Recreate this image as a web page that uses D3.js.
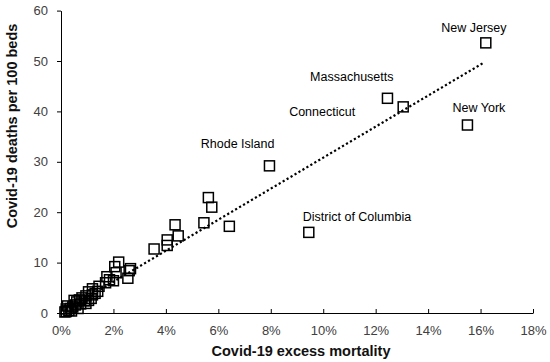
<!DOCTYPE html>
<html>
<head>
<meta charset="utf-8">
<script src="https://cdn.jsdelivr.net/npm/d3@7"></script>
<style>
  html, body { margin: 0; padding: 0; background: #fff; }
  svg { display: block; font-family: "Liberation Sans", Arial, sans-serif; }
</style>
</head>
<body>
<svg id="chart" width="550" height="362"></svg>
<script>
// Covid-19 excess mortality (%) vs Covid-19 deaths per 100 beds
const excessMortality = [16.2, 12.45, 13.05, 15.5, 7.95, 9.45, 5.62, 5.75, 5.45, 6.42,
  4.35, 4.47, 4.05, 4.05, 3.55, 2.2, 2.05, 2.1, 2.65, 2.6,
  2.55, 1.75, 1.85, 2.0, 1.7, 1.45, 1.2, 1.4, 1.05, 1.2,
  0.95, 1.15, 0.8, 0.7, 0.9, 0.6, 0.75, 0.55, 0.95, 0.45,
  0.35, 0.3, 0.2, 0.15, 0.25, 0.5, 1.3, 0.65, 0.4, 1.05, 0.2];
const deathsPer100Beds = [53.6, 42.6, 40.9, 37.3, 29.2, 16.0, 22.9, 21.0, 17.9, 17.2,
  17.5, 15.3, 14.5, 13.4, 12.7, 10.1, 9.2, 8.0, 8.8, 8.4,
  6.9, 7.2, 6.6, 6.4, 6.0, 5.3, 4.8, 4.3, 4.2, 3.6,
  3.4, 2.9, 3.0, 2.6, 2.4, 2.2, 1.8, 1.6, 1.9, 1.2,
  0.9, 0.5, 0.3, 0.2, 1.4, 2.5, 3.9, 0.9, 0.4, 2.5, 0.8];
const labelNames = ["New Jersey", "Massachusetts", "Connecticut", "New York", "Rhode Island", "District of Columbia"];
const labelX = [14.5, 9.5, 8.7, 14.93, 5.33, 9.22];
const labelY = [55.8, 46.0, 39.0, 39.9, 32.7, 18.3];
const xTicks = [0, 2, 4, 6, 8, 10, 12, 14, 16, 18];
const yTicks = [0, 10, 20, 30, 40, 50, 60];
const trendX = [0.15, 16.1];
const trendY = [0.5, 49.6];
const xTitle = "Covid-19 excess mortality";
const yTitle = "Covid-19 deaths per 100 beds";

const svg = d3.select("#chart");
const x = d3.scaleLinear().domain([0, 18]).range([61, 533]);
const y = d3.scaleLinear().domain([0, 60]).range([313, 10.6]);

// axes
const xAxis = d3.axisBottom(x).tickValues(xTicks).tickFormat(d => d + "%").tickSizeInner(-4).tickSizeOuter(0).tickPadding(13);
const yAxis = d3.axisLeft(y).tickValues(yTicks).tickSizeInner(4).tickSizeOuter(0).tickPadding(9);

const gx = svg.append("g").attr("transform", "translate(0,313)").call(xAxis);
const gy = svg.append("g").attr("transform", "translate(61,0)").call(yAxis);
[gx, gy].forEach(g => {
  g.select(".domain").attr("stroke", "#000").attr("stroke-width", 1);
  g.selectAll(".tick line").attr("stroke", "#000").attr("stroke-width", 1);
  g.selectAll(".tick text").attr("fill", "#404040").style("font-size", "13px")
    .style("font-family", '"Liberation Sans", Arial, sans-serif');
});

// trend line
svg.append("line")
  .attr("x1", x(trendX[0])).attr("y1", y(trendY[0]))
  .attr("x2", x(trendX[1])).attr("y2", y(trendY[1]))
  .attr("stroke", "#000").attr("stroke-width", 2.2)
  .attr("stroke-dasharray", "2.2 2.4");

// markers
const s = 10;
const pts = excessMortality.map((v, i) => ({ x: v, y: deathsPer100Beds[i] }));
svg.append("g").selectAll("rect").data(pts).join("rect")
  .attr("x", d => x(d.x) - s / 2).attr("y", d => y(d.y) - s / 2)
  .attr("width", s).attr("height", s)
  .attr("fill", "none").attr("stroke", "#000").attr("stroke-width", 1.5);

// labels
svg.append("g").selectAll("text").data(labelNames).join("text")
  .attr("x", (d, i) => x(labelX[i])).attr("y", (d, i) => y(labelY[i]))
  .attr("fill", "#000").style("font-size", "12.5px")
  .text(d => d);

// titles
svg.append("text").attr("x", 301).attr("y", 356).attr("text-anchor", "middle")
  .attr("fill", "#111").style("font-size", "14.5px").style("font-weight", "bold").text(xTitle);
svg.append("text").attr("transform", "translate(17,126) rotate(-90)").attr("text-anchor", "middle")
  .attr("fill", "#111").style("font-size", "14.5px").style("font-weight", "bold").text(yTitle);
</script>
</body>
</html>
